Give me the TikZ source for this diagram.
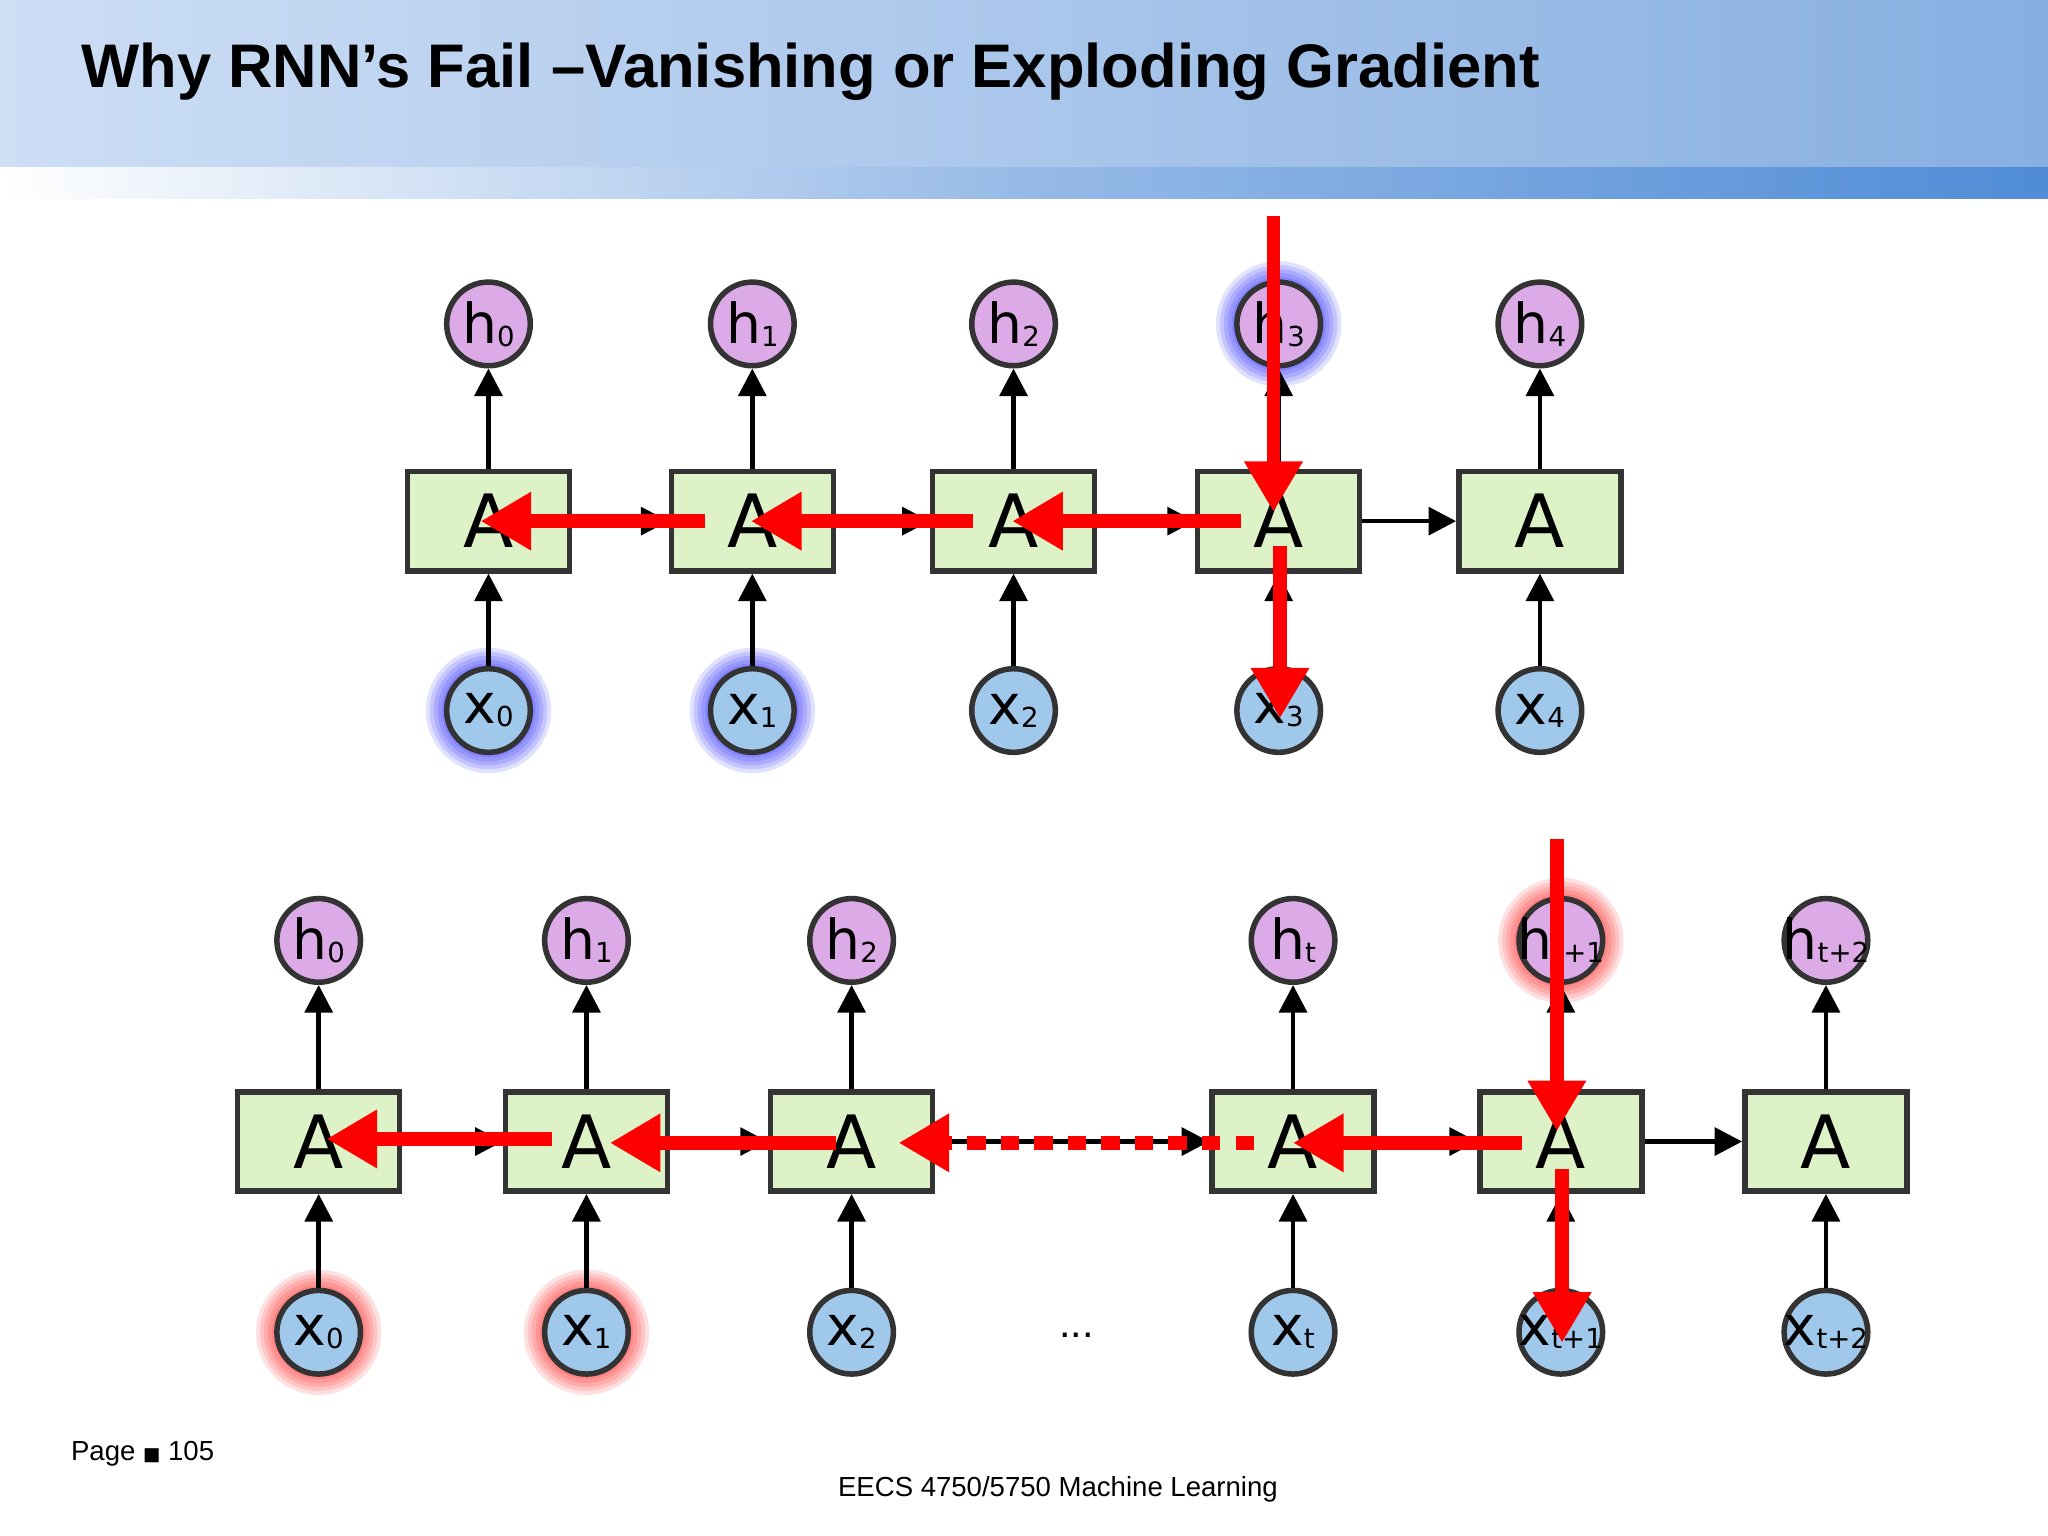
\documentclass[tikz,border=0pt]{standalone}
\usepackage{fontspec}
\setmainfont{Liberation Sans}
\newfontfamily\dv{DejaVu Sans}
\usetikzlibrary{arrows.meta}
\definecolor{boxg}{RGB}{222,242,200}
\definecolor{hcol}{RGB}{220,170,230}
\definecolor{xcol}{RGB}{160,200,235}
\definecolor{hdA}{RGB}{205,222,245}
\definecolor{hdB}{RGB}{135,175,225}
\definecolor{stB}{RGB}{80,140,215}
\tikzset{
 cell/.style={draw=black!80,line width=1.2pt,fill=boxg,minimum width=1.24cm,minimum height=0.76cm,inner sep=0pt,font=\dv\fontsize{16}{16}\selectfont},
 hnode/.style={circle,draw=black!80,line width=1.2pt,fill=hcol,minimum size=0.64cm,inner sep=0pt,font=\dv\fontsize{12}{12}\selectfont},
 xnode/.style={hnode,fill=xcol},
 blk/.style={line width=1pt,-{Triangle[length=6pt,width=6pt]}},
 redarr/.style={draw=red,line width=3pt,-{Triangle[length=11pt,width=12pt]}},
}
\newcommand{\glow}[3]{\foreach \r in {33,36,...,48}{\fill[#3,opacity=0.12] (#1,#2) circle (\r);}}
\newcommand{\sub}[2]{\makebox[0pt]{#1\raisebox{-0.1ex}{\fontsize{6}{6}\selectfont #2}}}
\begin{document}
\begin{tikzpicture}[x=0.01cm,y=-0.01cm]
\useasboundingbox (0,0) rectangle (1568,1176);
\fill[white] (0,0) rectangle (1568,1176);
\shade[left color=hdA,right color=hdB] (0,0) rectangle (1568,128);
\shade[left color=white,right color=stB,middle color=stB!60] (0,128) rectangle (1568,152);
\node[anchor=west,font=\bfseries\fontsize{13.4}{13.4}\selectfont] (title) at (50,55) {Why RNN’s Fail –Vanishing or Exploding Gradient};
% glows
\glow{979}{248}{blue}\glow{374}{544}{blue}\glow{576}{544}{blue}
\glow{1195}{720}{red}\glow{244}{1020}{red}\glow{449}{1020}{red}
% top row
\foreach \i/\x in {0/374,1/576,2/776,3/979,4/1179}{
 \node[cell] (a\i) at (\x,399) {A};
 \node[hnode] (h\i) at (\x,248) {\sub{h}{\i}};
 \node[xnode] (x\i) at (\x,544) {\sub{x}{\i}};
 \draw[blk] (x\i) -- (a\i);
 \draw[blk] (a\i) -- (h\i);
}
\foreach \i/\j in {0/1,1/2,2/3,3/4}{\draw[blk] (a\i) -- (a\j);}
% bottom row
\foreach \i/\x/\s in {0/244/0,1/449/1,2/652/2,3/990/t,4/1195/t+1,5/1398/t+2}{
 \node[cell] (b\i) at (\x,874) {A};
 \node[hnode] (g\i) at (\x,720) {\sub{h}{\s}};
 \node[xnode] (y\i) at (\x,1020) {\sub{x}{\s}};
 \draw[blk] (y\i) -- (b\i);
 \draw[blk] (b\i) -- (g\i);
}
\foreach \i/\j in {0/1,1/2,2/3,3/4,4/5}{\draw[blk] (b\i) -- (b\j);}
\node[font=\fontsize{9}{9}\selectfont] (dots) at (824,1022) {...};
% red arrows top
\coordinate (t0) at (975,165); \coordinate (t1) at (975,392);
\draw[redarr] (t0) -- (t1);
\coordinate (r1) at (950,399); \coordinate (r2) at (775,399);
\coordinate (r3) at (745,399); \coordinate (r4) at (575,399);
\coordinate (r5) at (540,399); \coordinate (r6) at (368,399);
\draw[redarr] (r1) -- (r2); \draw[redarr] (r3) -- (r4); \draw[redarr] (r5) -- (r6);
\coordinate (d0) at (980,418); \coordinate (d1) at (980,550);
\draw[redarr] (d0) -- (d1);
% red arrows bottom
\coordinate (u0) at (1192,642); \coordinate (u1) at (1192,866);
\draw[redarr] (u0) -- (u1);
\coordinate (s1) at (1165,875); \coordinate (s2) at (990,875);
\draw[redarr] (s1) -- (s2);
\coordinate (s3) at (960,875); \coordinate (s4) at (722,875); \coordinate (s5) at (688,875);
\draw[draw=red,line width=3pt,dash pattern=on 4pt off 3.3pt] (s3) -- (s4);
\draw[redarr] (s4) -- (s5);
\coordinate (s6) at (640,875); \coordinate (s7) at (467,875);
\coordinate (s8) at (423,872); \coordinate (s9) at (250,872);
\draw[redarr] (s6) -- (s7); \draw[redarr] (s8) -- (s9);
\coordinate (e0) at (1196,895); \coordinate (e1) at (1196,1028);
\draw[redarr] (e0) -- (e1);
% footer
\node[anchor=west,font=\fontsize{6}{6}\selectfont] (page) at (42,1113) {Page {\dv\fontsize{4}{4}\selectfont ■} 105};
\node[font=\fontsize{6}{6}\selectfont] (foot) at (810,1140) {EECS 4750/5750 Machine Learning};
\end{tikzpicture}
\end{document}
